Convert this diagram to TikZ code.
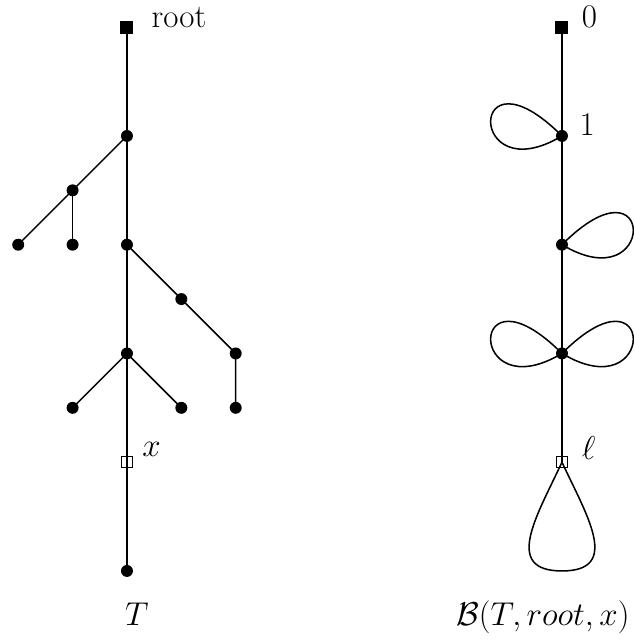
\documentclass[tikz,border=0pt]{standalone}
\usepackage{amsmath,amssymb}
\usepackage{tikz}
\usetikzlibrary{positioning}

\begin{document}
\begin{tikzpicture}[on grid, node distance=1cm and 1cm, line width=0.8pt,
        dot/.style={circle, fill, inner sep=0pt, minimum size=0.22cm},
        rootbox/.style={rectangle, fill, inner sep=0pt, minimum size=0.24cm},
        markbox/.style={rectangle, draw, line width=0.7pt, inner sep=0pt, minimum size=0.2cm},
        lbl/.style={anchor=base west, font=\LARGE, inner sep=0pt}
    ]
        \useasboundingbox (-2.335,-1.27) rectangle (9.32,10.5);

        % Tree T
        \node [rootbox] (root) at (0,10) {};
        \node [dot, below=2 of root] (a) {};
        \node [dot, below left=1 and 1 of a] (a1) {};
        \node [dot, below left=1 and 1 of a1] (a11) {};
        \node [dot, below=1 of a1] (a12) {};
        \node [dot, below=2 of a] (b) {};
        \node [dot, below right=1 and 1 of b] (b1) {};
        \node [dot, below right=1 and 1 of b1] (b2) {};
        \node [dot, below=1 of b2] (b3) {};
        \node [dot, below=2 of b] (c) {};
        \node [dot, below left=1 and 1 of c] (c1) {};
        \node [dot, below right=1 and 1 of c] (c2) {};
        \node [markbox, below=2 of c] (x) {};
        \node [dot, below=2 of x] (d) {};

        \draw (root.center) -- (d.center);
        \draw (a.center) -- (a1.center) -- (a11.center);
        \draw (a1.center) -- (a12.center);
        \draw (b.center) -- (b1.center) -- (b2.center) -- (b3.center);
        \draw (c1.center) -- (c.center) -- (c2.center);

        \node [lbl, right=0.44 of root, anchor=base west] (rootlbl) {root};
        \node [lbl, above right=0.1 and 0.27 of x, anchor=base west] (xlbl) {$x$};
        \node [font=\LARGE, anchor=base] (tlbl) at (0.18,-1) {$T$};

        % Bouquet B(T,root,x)
        \node [rootbox] (s0) at (8,10) {};
        \node [dot, below=2 of s0] (s1) {};
        \node [dot, below=2 of s1] (s2) {};
        \node [dot, below=2 of s2] (s3) {};
        \node [markbox, below=2 of s3] (ell) {};
        \coordinate [below=2 of ell] (ellbot);

        \draw (s0.center) -- (ell.center);

        % Loops
        \draw (s1.center) .. controls +(-1.75,1.75) and +(-1.75,-1.05) .. (s1.center);
        \draw (s2.center) .. controls +(1.75,1.75) and +(1.75,-1.05) .. (s2.center);
        \draw (s3.center) .. controls +(-1.75,1.75) and +(-1.75,-1.05) .. (s3.center);
        \draw (s3.center) .. controls +(1.75,1.75) and +(1.75,-1.05) .. (s3.center);
        \draw (ell.center) to[out=-115, in=180, looseness=1.4] (ellbot)
            to[out=0, in=-65, looseness=1.4] (ell.center);

        \node [lbl, right=0.35 of s0, anchor=base west] (lbl0) {0};
        \node [lbl, right=0.31 of s1, anchor=base west] (lbl1) {1};
        \node [lbl, above right=0.05 and 0.35 of ell, anchor=base west] (elllbl) {$\ell$};
        \node [font=\LARGE, anchor=base] (blbl) at (7.65,-1) {$\mathcal{B}(T,root,x)$};

    \end{tikzpicture}
\end{document}
